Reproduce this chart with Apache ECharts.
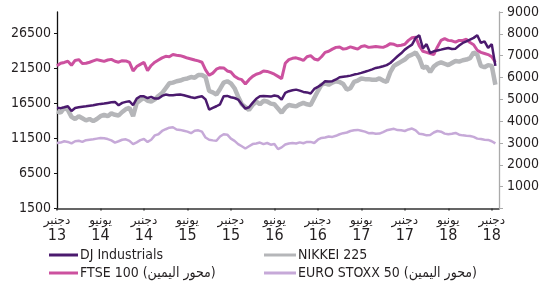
<!DOCTYPE html>
<html>
<head>
<meta charset="utf-8">
<script src="https://cdn.jsdelivr.net/npm/echarts@6/dist/echarts.min.js"></script>
<style>
html,body{margin:0;padding:0;background:#fff;}
#chart{width:548px;height:284px;}
</style>
</head>
<body>
<div id="chart"></div>
<script>
// Sample positions: months since 1 Dec 2013, every half month
var months = [];
for (var i = 0; i < 122; i++) { months.push(i / 2); }

// Tick labels (every 6 months)
var tickMonths = [0, 6, 12, 18, 24, 30, 36, 42, 48, 54, 60];
var tickMonthNames = ['دجنبر', 'يونيو', 'دجنبر', 'يونيو', 'دجنبر', 'يونيو', 'دجنبر', 'يونيو', 'دجنبر', 'يونيو', 'دجنبر'];
var tickYears = ['13', '14', '14', '15', '15', '16', '16', '17', '17', '18', '18'];
var leftTicks = [1500, 6500, 11500, 16500, 21500, 26500];
var rightTicks = [1000, 2000, 3000, 4000, 5000, 6000, 7000, 8000, 9000];

var seriesNames = ['DJ Industrials', 'NIKKEI 225', 'FTSE 100 \u200E(محور اليمين)', 'EURO STOXX 50 \u200E(محور اليمين)'];

// DJ Industrials (left axis)
var djValues = [
 15900,15850,15980,16120,15450,15880,15980,16050,16120,16200,
 16270,16380,16460,16520,16600,16680,16740,16270,16600,16750,
 16840,16270,17220,17550,17550,17300,17460,17220,17220,17600,
 17790,17700,17700,17750,17790,17700,17550,17400,17310,17450,
 17550,17100,15650,15890,16120,16400,17550,17600,17410,17300,
 17080,16400,15790,15980,16600,17200,17550,17600,17550,17500,
 17650,17550,17080,18030,18270,18400,18500,18350,18170,18100,
 17950,18600,18900,19220,19700,19650,19700,19950,20270,20350,
 20410,20500,20650,20750,20890,21050,21220,21400,21600,21700,
 21840,22000,22310,22800,23270,23700,24220,24600,24930,25900,
 26270,24400,25000,23750,23980,24100,24220,24350,24460,24300,
 24360,24800,25170,25400,25650,25900,26270,25170,25410,24460,
 25000,21900
];

// NIKKEI 225 (left axis)
var nikkeiValues = [
 15400,15200,15900,15600,14600,14300,14700,14400,14100,14300,
 14000,14300,14700,14900,14700,15100,14900,14800,15300,15700,
 15900,14700,16600,17000,17300,16900,16800,17100,17600,18000,
 18700,19400,19500,19700,19800,20000,20100,20300,20200,20600,
 20600,20300,18300,18100,17800,18600,19500,19700,19400,18700,
 17500,16400,16000,15600,16300,16800,16400,16900,16800,16500,
 16400,15800,15200,15900,16300,16200,16100,16400,16600,16400,
 16300,17300,18300,19200,19400,19200,19500,19700,19600,19300,
 18500,18700,19600,19800,20100,20000,20000,19900,19900,20100,
 19800,19600,21000,21900,22200,22500,22800,23300,23500,23800,
 23000,21600,21800,21000,21800,22200,22400,22200,22000,22300,
 22600,22500,22700,22800,23000,23800,23500,21900,21700,22000,
 21900,19200
];

// FTSE 100 (right axis)
var ftseValues = [
 6540,6650,6690,6744,6560,6780,6820,6640,6650,6700,
 6760,6820,6780,6740,6800,6830,6744,6700,6770,6760,
 6690,6300,6500,6600,6690,6320,6550,6700,6800,6900,
 6970,6950,7050,7020,7000,6950,6890,6850,6800,6760,
 6700,6350,6100,6200,6380,6450,6440,6300,6250,6060,
 5950,5900,5700,5900,6050,6150,6200,6300,6280,6220,
 6150,6050,5950,6650,6820,6880,6900,6850,6780,6950,
 7000,6850,6800,6950,7150,7200,7300,7380,7400,7300,
 7330,7400,7350,7300,7420,7450,7380,7400,7420,7400,
 7380,7450,7550,7520,7450,7480,7520,7700,7820,7850,
 7450,7200,7150,7100,7050,7400,7700,7780,7700,7680,
 7620,7700,7700,7750,7600,7500,7250,7150,7100,7050,
 6950,6700
];

// EURO STOXX 50 (right axis)
var euroValues = [
 3000,3020,3080,3050,2980,3080,3100,3050,3130,3150,
 3170,3200,3230,3220,3180,3120,3020,3080,3150,3170,
 3100,2950,3030,3130,3180,3050,3150,3350,3400,3550,
 3630,3700,3720,3620,3600,3560,3520,3450,3560,3580,
 3520,3250,3150,3120,3100,3300,3400,3380,3200,3100,
 2950,2850,2750,2850,2950,2980,3020,2950,3000,2920,
 2950,2720,2800,2930,2980,3000,2980,3030,2990,3050,
 3050,3000,3150,3230,3250,3300,3280,3330,3400,3450,
 3480,3550,3580,3600,3560,3520,3450,3460,3420,3430,
 3500,3580,3620,3650,3590,3580,3550,3620,3660,3580,
 3420,3400,3350,3370,3480,3550,3520,3430,3400,3420,
 3460,3380,3350,3330,3320,3280,3200,3180,3150,3140,
 3080,2980
];

function pairs(vals) {
  return vals.map(function (v, i) { return [months[i], v]; });
}

var FONT = "'DejaVu Sans Condensed', 'Liberation Sans', sans-serif";
var TXT = '#231f20';
var COLORS = ['#4b1a6e', '#b5b6b9', '#cc519f', '#c6a9d8'];

function legendFor(idx, left, top, w) {
  return {
    data: [seriesNames[idx]], left: left, top: top, orient: 'horizontal',
    icon: 'rect', itemWidth: w, itemHeight: 3,
    textStyle: { fontSize: 14, color: TXT, fontFamily: FONT, padding: [0, 0, 0, -3] }
  };
}

var chart = echarts.init(document.getElementById('chart'), null, { renderer: 'canvas' });
chart.setOption({
  animation: false,
  backgroundColor: '#fff',
  textStyle: { fontFamily: FONT },
  grid: { left: 57, right: 49, top: 12, bottom: 75.5, containLabel: false },
  xAxis: {
    type: 'value', min: 0, max: 61, interval: 6,
    axisLine: { show: true, lineStyle: { color: '#333', width: 1.5 } },
    axisTick: { show: true, length: 2, lineStyle: { color: '#333', width: 1.5 }, customValues: tickMonths },
    splitLine: { show: false },
    axisLabel: {
      customValues: tickMonths, margin: 5,
      formatter: function (v) {
        var i = tickMonths.indexOf(v);
        if (i < 0) return '';
        return '{m|' + tickMonthNames[i] + '}\n{y|' + tickYears[i] + '}';
      },
      rich: {
        m: { fontSize: 12, lineHeight: 14, color: TXT, fontFamily: "'DejaVu Sans', sans-serif" },
        y: { fontSize: 16, lineHeight: 16, color: TXT, fontFamily: FONT }
      }
    }
  },
  yAxis: [
    {
      type: 'value', min: 1500, max: 29600, position: 'left',
      axisLine: { show: true, lineStyle: { color: '#111', width: 1.3 } },
      axisTick: { show: true, length: 3, customValues: leftTicks, lineStyle: { color: '#111' } },
      splitLine: { show: false },
      axisLabel: { customValues: leftTicks, margin: 6, fontSize: 14, color: TXT, fontFamily: FONT,
        formatter: function (v) { return String(v); } }
    },
    {
      type: 'value', min: 0, max: 9000, interval: 1000, position: 'right',
      axisLine: { show: true, lineStyle: { color: '#aaa', width: 1.3 } },
      axisTick: { show: true, length: 4, lineStyle: { color: '#aaa' } },
      splitLine: { show: false },
      axisLabel: { customValues: rightTicks, margin: 8, fontSize: 14, color: TXT, fontFamily: FONT,
        formatter: function (v) { return String(v); } }
    }
  ],
  legend: [
    legendFor(0, 44, 243, 29),
    legendFor(2, 44, 261, 29),
    legendFor(1, 259, 243, 32),
    legendFor(3, 259, 261, 32)
  ],
  series: [
    { name: seriesNames[3], type: 'line', yAxisIndex: 1, data: pairs(euroValues), showSymbol: false, z: 1,
      lineStyle: { color: COLORS[3], width: 2.5 }, itemStyle: { color: COLORS[3] } },
    { name: seriesNames[1], type: 'line', yAxisIndex: 0, data: pairs(nikkeiValues), showSymbol: false, z: 2,
      lineStyle: { color: COLORS[1], width: 4.5 }, itemStyle: { color: COLORS[1] } },
    { name: seriesNames[2], type: 'line', yAxisIndex: 1, data: pairs(ftseValues), showSymbol: false, z: 3,
      lineStyle: { color: COLORS[2], width: 3 }, itemStyle: { color: COLORS[2] } },
    { name: seriesNames[0], type: 'line', yAxisIndex: 0, data: pairs(djValues), showSymbol: false, z: 4,
      lineStyle: { color: COLORS[0], width: 2.5 }, itemStyle: { color: COLORS[0] } }
  ]
});
</script>
</body>
</html>
